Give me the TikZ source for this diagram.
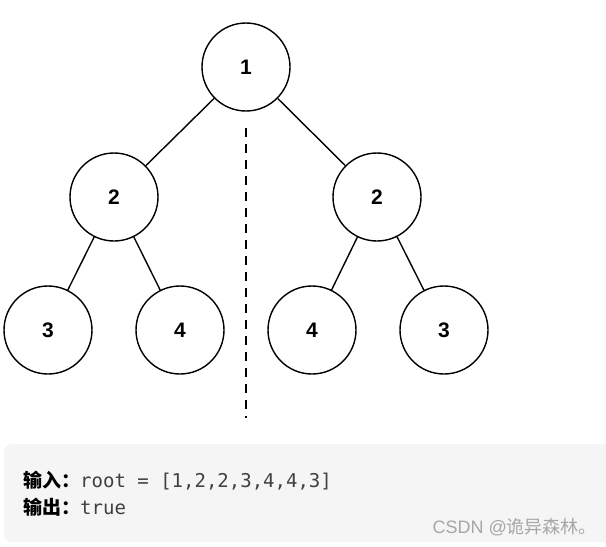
\documentclass[tikz,border=0pt]{standalone}
\usepackage{fontspec}
\setmainfont{Liberation Sans}
\setmonofont{DejaVu Sans Mono}
\newfontfamily\cjk{Noto Sans CJK SC}
\begin{document}
\begin{tikzpicture}[x=1pt,y=-1pt,
  nd/.style={circle,draw,line width=1.4pt,minimum size=88pt,inner sep=0pt,font=\fontsize{21}{21}\selectfont\bfseries},
  ed/.style={line width=1.4pt}]
\useasboundingbox (0,0) rectangle (606,547);
\fill[gray!8,rounded corners=8pt] (4,444) rectangle (612,542);
\node[nd] (a) at (246,67) {1};
\node[nd] (b) at (114,197) {2};
\node[nd] (c) at (377,197) {2};
\node[nd] (d) at (48,330) {3};
\node[nd] (e) at (180,330) {4};
\node[nd] (f) at (312,330) {4};
\node[nd] (g) at (444,330) {3};
\draw[ed] (a)--(b); \draw[ed] (a)--(c);
\draw[ed] (b)--(d); \draw[ed] (b)--(e);
\draw[ed] (c)--(f); \draw[ed] (c)--(g);
\coordinate (t) at (246,128); \coordinate (u) at (246,418);
\draw[line width=2.5pt,dash pattern=on 9pt off 7pt] (t)--(u);
\node[anchor=base west,inner sep=0pt,font=\fontsize{19}{19}\selectfont] (l1) at (23,487) {{\cjk\bfseries 输入：}\ttfamily\color{black!75}root = [1,2,2,3,4,4,3]};
\node[anchor=base west,inner sep=0pt,font=\fontsize{19}{19}\selectfont] (l2) at (23,514) {{\cjk\bfseries 输出：}\ttfamily\color{black!75}true};
\node[anchor=base east,inner sep=0pt,text=gray!70,font=\fontsize{18}{18}\selectfont] (w) at (597,533) {CSDN @{\cjk 诡异森林。}};
\end{tikzpicture}
\end{document}
